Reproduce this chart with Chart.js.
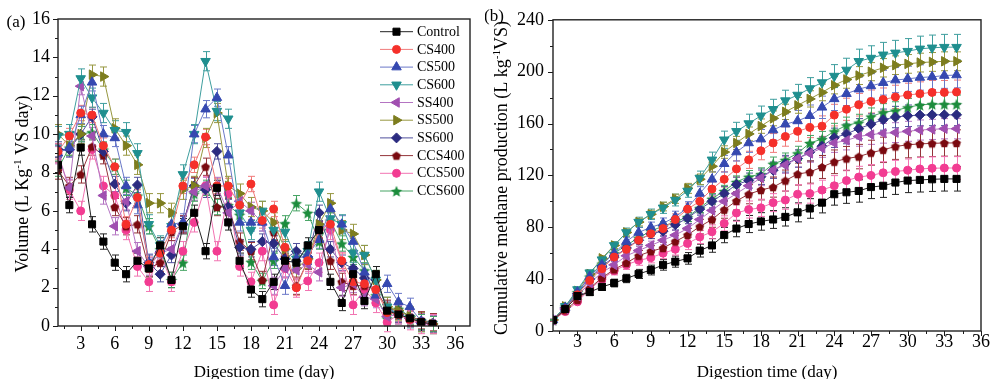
<!DOCTYPE html>
<html>
<head>
<meta charset="utf-8">
<script src="https://cdn.jsdelivr.net/npm/chart.js@4.4.1/dist/chart.umd.min.js"></script>
<style>
  html, body { margin: 0; padding: 0; background: #fff; }
  #wrapA { position: absolute; left: 0; top: 0; width: 485px; height: 379px; }
  #wrapB { position: absolute; left: 485px; top: 0; width: 505px; height: 379px; }
</style>
</head>
<body>
<div id="wrapA"><canvas id="chartA" width="485" height="379"></canvas></div>
<div id="wrapB"><canvas id="chartB" width="505" height="379"></canvas></div>
<script>
// digestion days
const days = [1, 2, 3, 4, 5, 6, 7, 8, 9, 10, 11, 12, 13, 14, 15, 16, 17, 18, 19, 20, 21, 22, 23, 24, 25, 26, 27, 28, 29, 30, 31, 32, 33, 34];

// (a) daily volume, L/kg VS day
const dailyControl = [8.4, 6.3, 9.3, 5.3, 4.4, 3.3, 2.7, 3.4, 3.0, 4.2, 2.4, 5.2, 5.9, 3.9, 7.2, 5.4, 3.4, 1.9, 1.4, 2.3, 3.4, 3.3, 4.2, 5.0, 2.3, 1.2, 2.7, 1.3, 2.7, 0.8, 0.6, 0.4, 0.2, 0.1];
const dailyCS400 = [9.1, 9.9, 11.1, 11.0, 9.4, 8.3, 5.3, 6.7, 3.2, 3.8, 5.0, 7.3, 8.4, 9.85, 7.3, 7.3, 6.3, 7.4, 5.5, 6.1, 4.1, 2.0, 3.4, 5.0, 5.3, 3.4, 2.3, 2.2, 1.9, 0.7, 0.6, 0.35, 0.2, 0.1];
const dailyCS500 = [9.0, 9.3, 11.0, 12.7, 10.0, 9.8, 7.3, 6.3, 3.3, 4.0, 5.3, 5.4, 10.0, 11.3, 11.9, 8.9, 5.4, 5.4, 5.4, 3.6, 2.1, 3.5, 3.7, 4.5, 6.1, 5.3, 4.4, 2.8, 1.6, 2.2, 1.25, 1.0, 0.25, 0.1];
const dailyCS600 = [9.9, 10.0, 12.9, 11.9, 11.1, 10.2, 10.1, 9.0, 5.3, 4.2, 5.2, 7.9, 10.0, 13.8, 11.2, 10.8, 5.9, 5.0, 6.0, 5.0, 4.9, 3.5, 3.9, 7.0, 5.6, 5.3, 3.8, 3.7, 2.4, 1.0, 0.6, 0.4, 0.2, 0.1];
const dailySS400 = [8.9, 7.2, 12.5, 9.9, 6.8, 5.2, 6.5, 3.9, 3.1, 3.8, 4.0, 5.3, 7.0, 7.3, 7.3, 5.9, 6.5, 6.0, 5.4, 2.1, 3.0, 2.9, 3.2, 2.8, 5.2, 2.0, 2.2, 1.5, 1.4, 0.5, 0.6, 0.4, 0.2, 0.1];
const dailySS500 = [10.0, 9.4, 10.0, 13.1, 13.0, 10.3, 9.4, 8.4, 6.4, 6.4, 5.9, 7.1, 7.3, 9.8, 11.1, 7.3, 6.9, 6.2, 6.0, 5.4, 4.0, 3.0, 3.5, 5.3, 6.4, 5.0, 4.8, 3.7, 2.4, 1.0, 0.8, 0.5, 0.2, 0.1];
const dailySS600 = [9.2, 9.2, 10.0, 10.9, 9.1, 7.4, 6.4, 7.35, 3.3, 2.7, 3.7, 5.3, 7.3, 7.1, 9.1, 6.2, 4.1, 4.0, 4.4, 4.3, 3.5, 3.9, 3.6, 5.9, 4.0, 3.3, 3.0, 2.5, 2.4, 0.9, 0.6, 0.4, 0.2, 0.1];
const dailyCCS400 = [8.1, 7.3, 7.9, 9.35, 8.9, 6.2, 5.2, 5.3, 3.0, 3.3, 4.9, 5.3, 7.3, 8.3, 6.2, 6.2, 4.4, 3.9, 2.4, 4.9, 3.6, 2.1, 3.4, 5.0, 3.4, 2.3, 2.1, 2.1, 1.9, 0.9, 0.8, 0.5, 0.3, 0.2];
const dailyCCS500 = [9.0, 7.1, 6.0, 9.2, 7.3, 6.8, 5.0, 3.1, 2.3, 3.8, 2.3, 3.9, 5.4, 7.3, 3.9, 6.9, 3.1, 2.3, 3.9, 1.1, 3.0, 2.0, 2.35, 3.3, 5.0, 3.35, 1.1, 1.9, 1.2, 0.2, 0.6, 0.3, 0.1, 0.1];
const dailyCCS600 = [8.2, 9.3, 10.0, 10.1, 9.2, 8.3, 7.2, 6.8, 5.2, 4.0, 2.4, 3.3, 6.9, 7.2, 6.2, 6.3, 5.8, 3.35, 2.35, 3.4, 5.35, 6.4, 5.9, 4.4, 5.5, 4.3, 3.6, 2.9, 1.6, 0.4, 0.9, 0.5, 0.2, 0.1];

// (b) cumulative methane production, L/kg VS
const cumControl = [8.4, 17, 27, 30, 34, 37, 40.5, 44, 47, 51, 53.5, 56, 62, 66, 74, 79, 82.5, 84.5, 86, 88, 91.5, 94.5, 99, 105.5, 107, 108, 111, 112, 114.5, 116, 116.5, 117, 117.3, 117.3];
const cumCS400 = [8.5, 17, 28, 39, 48, 57, 63, 70, 75, 79, 86, 94, 100, 109.5, 117, 125, 132, 139, 145, 150, 154, 157, 158, 166.5, 171, 174.5, 177, 178.5, 180.5, 182, 183, 184, 184, 184.3];
const cumCS500 = [8.5, 18, 30, 42, 51, 60, 69, 76, 80, 83, 88, 95, 106, 117, 129, 138, 145, 148, 155, 159.5, 162, 166, 172.5, 179, 183, 186.5, 189, 191.5, 193.5, 194.5, 195.5, 196, 197, 197.4];
const cumCS600 = [8.5, 19, 32, 45, 55, 66, 76, 84, 90, 95, 101, 108, 118, 132, 147.5, 154, 160, 166, 171, 177.7, 182, 187, 191.6, 196.6, 201.3, 208, 210.5, 213, 214.5, 215.8, 217.6, 218.4, 218.9, 218.9];
const cumSS400 = [8.4, 17, 27, 37, 45, 51, 58, 62, 66, 70, 74, 79, 86, 93, 100, 106, 112, 118, 124, 128, 133, 137, 141, 145, 147, 150, 151.5, 152.5, 153, 154, 155, 155.5, 156, 156];
const cumSS500 = [8.5, 19, 31, 44, 56, 66, 76, 84, 90, 96, 102, 110, 117, 127, 138, 145, 152, 158, 164, 169, 174, 179, 184, 189.5, 194, 197, 200, 203, 205, 206, 207, 207.5, 208, 208];
const cumSS600 = [8.5, 18, 29, 40, 50, 57, 64, 70, 75, 77, 82, 87, 94, 100, 106, 113, 116, 119, 124, 129, 133, 138, 142.5, 149, 152, 156, 159.5, 163, 165, 166, 166.5, 166.7, 166.7, 166.7];
const cumCCS400 = [8.2, 16, 24, 33, 41, 47.5, 52.5, 58, 61.5, 64, 69, 74, 80.5, 86, 93.5, 100.3, 105.5, 108.7, 111, 116, 121, 122.6, 126.5, 130.5, 133, 134.5, 137.5, 139.7, 142.3, 143.6, 144.3, 144.7, 145, 145];
const cumCCS500 = [8.4, 15, 22.5, 32, 40, 46.5, 51, 54.5, 56.5, 60, 63, 67.5, 72.5, 76.5, 83, 91, 93.7, 95, 99, 101, 105.5, 106, 108.7, 112, 116, 118.7, 120, 122, 123, 124, 125, 125.5, 125.7, 125.7];
const cumCCS600 = [8.5, 19, 30, 42, 52, 60, 66, 72, 77, 81, 84, 88, 95, 102, 108, 115, 119, 121, 129, 132, 137, 145, 148, 154, 158.6, 160.7, 165.4, 168.6, 170, 172.5, 174.3, 175, 175, 175];

// error bar sizes: (a) absolute, (b) fraction of value
const errDaily = [0.4, 0.4, 0.45, 0.5, 0.45, 0.5, 0.4, 0.45, 0.5, 0.4];
const errCumFrac = [0.08, 0.05, 0.05, 0.045, 0.05, 0.035, 0.05, 0.07, 0.07, 0.04];

const seriesNames = ['Control', 'CS400', 'CS500', 'CS600', 'SS400', 'SS500', 'SS600', 'CCS400', 'CCS500', 'CCS600'];

// tick labels
const xTicks = [3, 6, 9, 12, 15, 18, 21, 24, 27, 30, 33, 36];
const xMinor = [1.5, 4.5, 7.5, 10.5, 13.5, 16.5, 19.5, 22.5, 25.5, 28.5, 31.5, 34.5];
const yTicksA = [0, 2, 4, 6, 8, 10, 12, 14, 16];
const yMinorA = [1, 3, 5, 7, 9, 11, 13, 15];
const yTicksB = [0, 40, 80, 120, 160, 200, 240];
const yMinorB = [20, 60, 100, 140, 180, 220];

const dailySeries = [dailyControl, dailyCS400, dailyCS500, dailyCS600, dailySS400, dailySS500, dailySS600, dailyCCS400, dailyCCS500, dailyCCS600];
const cumSeries = [cumControl, cumCS400, cumCS500, cumCS600, cumSS400, cumSS500, cumSS600, cumCCS400, cumCCS500, cumCCS600];

// styles
const markerColors = ['#000000', '#f5302a', '#3548b0', '#1f8f8f', '#a04fb0', '#7d7d1e', '#2b2b80', '#7a0a10', '#f23c92', '#1c8c3c'];
const lineColors = ['#222222', '#f07a7a', '#6a78c8', '#3e9e9e', '#b474c2', '#979740', '#50509c', '#94343a', '#f274b2', '#46a464'];
const FONT = "'Liberation Serif', 'Times New Roman', serif";

function makePentagon(color, r) {
    const c = document.createElement('canvas');
    const s = Math.ceil(r * 2) + 2;
    c.width = s; c.height = s;
    const g = c.getContext('2d');
    g.fillStyle = color;
    g.beginPath();
    for (let i = 0; i < 5; i++) {
        const a = -Math.PI / 2 + i * 2 * Math.PI / 5;
        const px = s / 2 + r * Math.cos(a), py = s / 2 + 0.5 + r * Math.sin(a);
        if (i === 0) g.moveTo(px, py); else g.lineTo(px, py);
    }
    g.closePath();
    g.fill();
    return c;
}

function makeStar(color, r) {
    const c = document.createElement('canvas');
    const s = Math.ceil(r * 2) + 2;
    c.width = s; c.height = s;
    const g = c.getContext('2d');
    g.fillStyle = color;
    g.beginPath();
    for (let i = 0; i < 10; i++) {
        const a = -Math.PI / 2 + i * Math.PI / 5;
        const rr = i % 2 === 0 ? r : r * 0.45;
        const px = s / 2 + rr * Math.cos(a), py = s / 2 + 0.8 + rr * Math.sin(a);
        if (i === 0) g.moveTo(px, py); else g.lineTo(px, py);
    }
    g.closePath();
    g.fill();
    return c;
}

const pointStyles = ['rect', 'circle', 'triangle', 'triangle', 'triangle', 'triangle', 'rectRot',
    makePentagon(markerColors[7], 4.6), 'circle', makeStar(markerColors[9], 6)];
const pointRotations = [0, 0, 0, 180, -90, 90, 0, 0, 0, 0];
const pointRadii = [5, 4, 5.5, 5.5, 5.5, 5.5, 5, 5, 4, 5];

function buildDatasets(series, errFn) {
    return series.map((vals, i) => ({
        label: seriesNames[i],
        data: days.map((d, j) => ({ x: d, y: vals[j] })),
        errors: vals.map(v => errFn(v, i)),
        borderColor: lineColors[i],
        backgroundColor: markerColors[i],
        pointBackgroundColor: markerColors[i],
        pointBorderColor: markerColors[i],
        pointBorderWidth: 1,
        borderWidth: 1,
        pointStyle: pointStyles[i],
        pointRotation: pointRotations[i],
        pointRadius: pointRadii[i],
        tension: 0,
        fill: false
    }));
}

// vertical error bars with caps
const errorBars = {
    id: 'errorBars',
    beforeDatasetsDraw(chart) {
        const ctx = chart.ctx;
        const ys = chart.scales.y;
        ctx.save();
        ctx.lineWidth = 1;
        chart.data.datasets.forEach((ds, i) => {
            const meta = chart.getDatasetMeta(i);
            ctx.strokeStyle = ds.borderColor;
            meta.data.forEach((pt, j) => {
                const v = ds.data[j].y, e = ds.errors[j];
                const y1 = ys.getPixelForValue(v + e), y2 = ys.getPixelForValue(v - e);
                const x = Math.round(pt.x) + 0.5;
                ctx.beginPath();
                ctx.moveTo(x, y1); ctx.lineTo(x, y2);
                ctx.moveTo(x - 3.5, y1); ctx.lineTo(x + 3.5, y1);
                ctx.moveTo(x - 3.5, y2); ctx.lineTo(x + 3.5, y2);
                ctx.stroke();
            });
        });
        ctx.restore();
    }
};

// text with a superscript, rotated to read upward
function drawVerticalTitle(ctx, parts, cx, cy, size) {
    ctx.save();
    ctx.translate(cx, cy);
    ctx.rotate(-Math.PI / 2);
    ctx.fillStyle = '#000';
    ctx.textBaseline = 'alphabetic';
    ctx.textAlign = 'left';
    let total = 0;
    parts.forEach(p => {
        ctx.font = (p.sup ? size * 0.62 : size) + 'px ' + FONT;
        total += ctx.measureText(p.t).width;
    });
    let x = -total / 2;
    parts.forEach(p => {
        ctx.font = (p.sup ? size * 0.62 : size) + 'px ' + FONT;
        ctx.fillText(p.t, x, p.sup ? size * 0.35 - size * 0.42 : size * 0.35);
        x += ctx.measureText(p.t).width;
    });
    ctx.restore();
}

// frame, tick marks, titles and labels
const decorations = {
    id: 'decorations',
    afterDraw(chart, args, o) {
        const { ctx, chartArea: a, scales } = chart;
        ctx.save();
        ctx.strokeStyle = '#1a1a1a';
        ctx.lineWidth = 1;
        const tick = (x1, y1, x2, y2) => { ctx.beginPath(); ctx.moveTo(x1, y1); ctx.lineTo(x2, y2); ctx.stroke(); };
        xTicks.forEach(v => { const x = Math.round(scales.x.getPixelForValue(v)) + 0.5; tick(x, a.bottom, x, a.bottom + 5); });
        xMinor.forEach(v => { const x = Math.round(scales.x.getPixelForValue(v)) + 0.5; tick(x, a.bottom, x, a.bottom + 3); });
        o.yMajor.forEach(v => { const y = Math.round(scales.y.getPixelForValue(v)) + 0.5; tick(a.left - 5, y, a.left, y); });
        o.yMinor.forEach(v => { const y = Math.round(scales.y.getPixelForValue(v)) + 0.5; tick(a.left - 3, y, a.left, y); });
        ctx.lineWidth = 1.4;
        ctx.strokeStyle = '#222';
        ctx.strokeRect(a.left, a.top, a.right - a.left, a.bottom - a.top);

        ctx.fillStyle = '#000';
        ctx.font = '17px ' + FONT;
        ctx.textAlign = 'center';
        ctx.textBaseline = 'middle';
        ctx.fillText('Digestion time (day)', (a.left + a.right) / 2, o.xTitleY);
        drawVerticalTitle(ctx, o.yTitle, o.yTitleX, o.yTitleY, o.yTitleSize);
        ctx.font = '17px ' + FONT;
        ctx.textAlign = 'center';
        ctx.fillText(o.panel, o.panelX, o.panelY);

        if (o.legend) {
            const lg = o.legend;
            chart.data.datasets.forEach((ds, i) => {
                const y = lg.y0 + i * lg.step;
                ctx.strokeStyle = ds.borderColor;
                ctx.lineWidth = 1;
                tick(lg.x0, y, lg.x1, y);
                ctx.fillStyle = ds.pointBackgroundColor;
                ctx.strokeStyle = ds.pointBorderColor;
                Chart.helpers.drawPoint(ctx, {
                    pointStyle: ds.pointStyle, rotation: ds.pointRotation,
                    radius: ds.pointRadius, borderWidth: 1
                }, (lg.x0 + lg.x1) / 2, y);
                ctx.fillStyle = '#000';
                ctx.font = '14px ' + FONT;
                ctx.textAlign = 'left';
                ctx.textBaseline = 'middle';
                ctx.fillText(ds.label, lg.tx, y + 0.5);
            });
        }
        ctx.restore();
    }
};

function makeChart(canvasId, datasets, cfg) {
    const ctx = document.getElementById(canvasId).getContext('2d');
    return new Chart(ctx, {
        type: 'line',
        data: { datasets },
        options: {
            responsive: false,
            animation: false,
            devicePixelRatio: 1,
            layout: { padding: cfg.padding },
            plugins: {
                legend: { display: false },
                tooltip: { enabled: false },
                decorations: cfg.deco
            },
            scales: {
                x: {
                    type: 'linear', min: 1, max: cfg.xMax,
                    afterBuildTicks: s => { s.ticks = xTicks.map(v => ({ value: v })); },
                    afterFit: s => { s.height = cfg.xHeight; },
                    grid: { display: false, drawTicks: false },
                    border: { display: false },
                    ticks: { color: '#000', font: { family: FONT, size: 18 }, padding: cfg.xPad, maxRotation: 0, autoSkip: false }
                },
                y: {
                    min: 0, max: cfg.yMax,
                    afterBuildTicks: s => { s.ticks = cfg.yMajor.map(v => ({ value: v })); },
                    afterFit: s => { s.width = cfg.yWidth; },
                    grid: { display: false, drawTicks: false },
                    border: { display: false },
                    ticks: { color: '#000', font: { family: FONT, size: 18 }, padding: cfg.yPad, autoSkip: false }
                }
            }
        },
        plugins: [errorBars, decorations]
    });
}

makeChart('chartA', buildDatasets(dailySeries, (v, i) => errDaily[i]), {
    padding: { top: 19, right: 15, left: 0, bottom: 0 },
    xMax: 37.3, xHeight: 53, xPad: 7, yMax: 16, yMajor: yTicksA, yWidth: 58, yPad: 8,
    deco: {
        yMajor: yTicksA, yMinor: yMinorA, xTitleY: 373,
        yTitle: [{ t: 'Volume (L Kg' }, { t: '-1', sup: true }, { t: ' VS day)' }],
        yTitleX: 22, yTitleY: 184, yTitleSize: 18,
        panel: '(a)', panelX: 16, panelY: 23,
        legend: { x0: 380, x1: 413, tx: 417, y0: 31.7, step: 17.7 }
    }
});

makeChart('chartB', buildDatasets(cumSeries, (v, i) => v * errCumFrac[i]), {
    padding: { top: 13, right: 9, left: 0, bottom: 0 },
    xMax: 36, xHeight: 48, xPad: 0, yMax: 240, yMajor: yTicksB, yWidth: 68, yPad: 9,
    deco: {
        yMajor: yTicksB, yMinor: yMinorB, xTitleY: 373,
        yTitle: [{ t: 'Cumulative methane production (L kg' }, { t: '-1', sup: true }, { t: 'VS)' }],
        yTitleX: 16, yTitleY: 178, yTitleSize: 18,
        panel: '(b)', panelX: 9, panelY: 17
    }
});
</script>
</body>
</html>
